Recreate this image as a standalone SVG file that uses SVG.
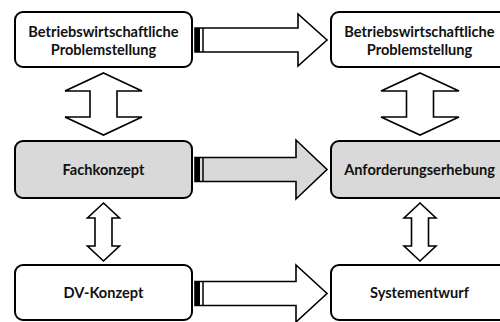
<svg xmlns="http://www.w3.org/2000/svg" width="500" height="322" viewBox="0 0 500 322">
  <style>
    .box { stroke: #000; stroke-width: 2; }
    .plain { fill: #fff; }
    .grey { fill: #d9d9d9; }
    .arrow { stroke: #000; stroke-width: 1.6; stroke-linejoin: miter; }
    .lbl { font-family: Lato, "Open Sans", "Liberation Sans", sans-serif; font-weight: bold; font-size: 14.6px; fill: #111; text-anchor: middle; }
  </style>
  <rect width="500" height="322" fill="#fff"/>

  <!-- connectors: striped block arrows and double-headed block arrows -->
  <g id="connectors">
    <g id="h-top">
      <path class="arrow plain" d="M195,28 H298 V14 L327,40 L298,66 V52 H195 Z"/>
      <rect x="195" y="28" width="5" height="24" fill="#000"/>
      <line x1="203" y1="28" x2="203" y2="52" stroke="#000" stroke-width="1.5"/>
    </g>
    <g id="h-mid">
      <path class="arrow grey" d="M195,157.5 H296 V140 L327,169.5 L296,199 V181.5 H195 Z"/>
      <rect x="195" y="157.5" width="5" height="24" fill="#000"/>
      <line x1="203" y1="157.5" x2="203" y2="181.5" stroke="#000" stroke-width="1.5"/>
    </g>
    <g id="h-bot">
      <path class="arrow plain" d="M195,281.5 H296 V265 L327,293.5 L296,322 V305.5 H195 Z"/>
      <rect x="195" y="281.5" width="5" height="24" fill="#000"/>
      <line x1="203" y1="281.5" x2="203" y2="305.5" stroke="#000" stroke-width="1.5"/>
    </g>
    <path id="v-left-top" class="arrow plain" d="M103.5,73 L142,91 H117 V117 H142 L103.5,135 L65,117 H90 V91 H65 Z"/>
    <path id="v-right-top" class="arrow plain" d="M420,73 L459,91 H433.5 V117 H459 L420,135 L381,117 H406.5 V91 H381 Z"/>
    <path id="v-left-bot" class="arrow plain" d="M103.5,203 L119.5,218 H112 V246 H119.5 L103.5,261 L87.5,246 H95 V218 H87.5 Z"/>
    <path id="v-right-bot" class="arrow plain" d="M420,203 L436,218 H428.5 V246 H436 L420,261 L404,246 H411.5 V218 H404 Z"/>
  </g>

  <g id="problem-left">
    <rect class="box plain" x="15" y="12" width="177" height="55" rx="8"/>
    <text class="lbl" x="103.5" y="36.5">Betriebswirtschaftliche</text>
    <text class="lbl" x="103.5" y="55">Problemstellung</text>
  </g>
  <g id="problem-right">
    <rect class="box plain" x="331" y="12" width="177" height="55" rx="8"/>
    <text class="lbl" x="419.5" y="36.5">Betriebswirtschaftliche</text>
    <text class="lbl" x="419.5" y="55">Problemstellung</text>
  </g>
  <g id="fachkonzept">
    <rect class="box grey" x="15" y="141" width="177" height="57" rx="8"/>
    <text class="lbl" x="103.5" y="174.5">Fachkonzept</text>
  </g>
  <g id="anforderungserhebung">
    <rect class="box grey" x="331" y="141" width="177" height="57" rx="8"/>
    <text class="lbl" x="419.5" y="174.5">Anforderungserhebung</text>
  </g>
  <g id="dv-konzept">
    <rect class="box plain" x="15" y="265" width="177" height="55" rx="8"/>
    <text class="lbl" x="103.5" y="297.5">DV-Konzept</text>
  </g>
  <g id="systementwurf">
    <rect class="box plain" x="331" y="265" width="177" height="55" rx="8"/>
    <text class="lbl" x="419.5" y="297.5">Systementwurf</text>
  </g>
</svg>
